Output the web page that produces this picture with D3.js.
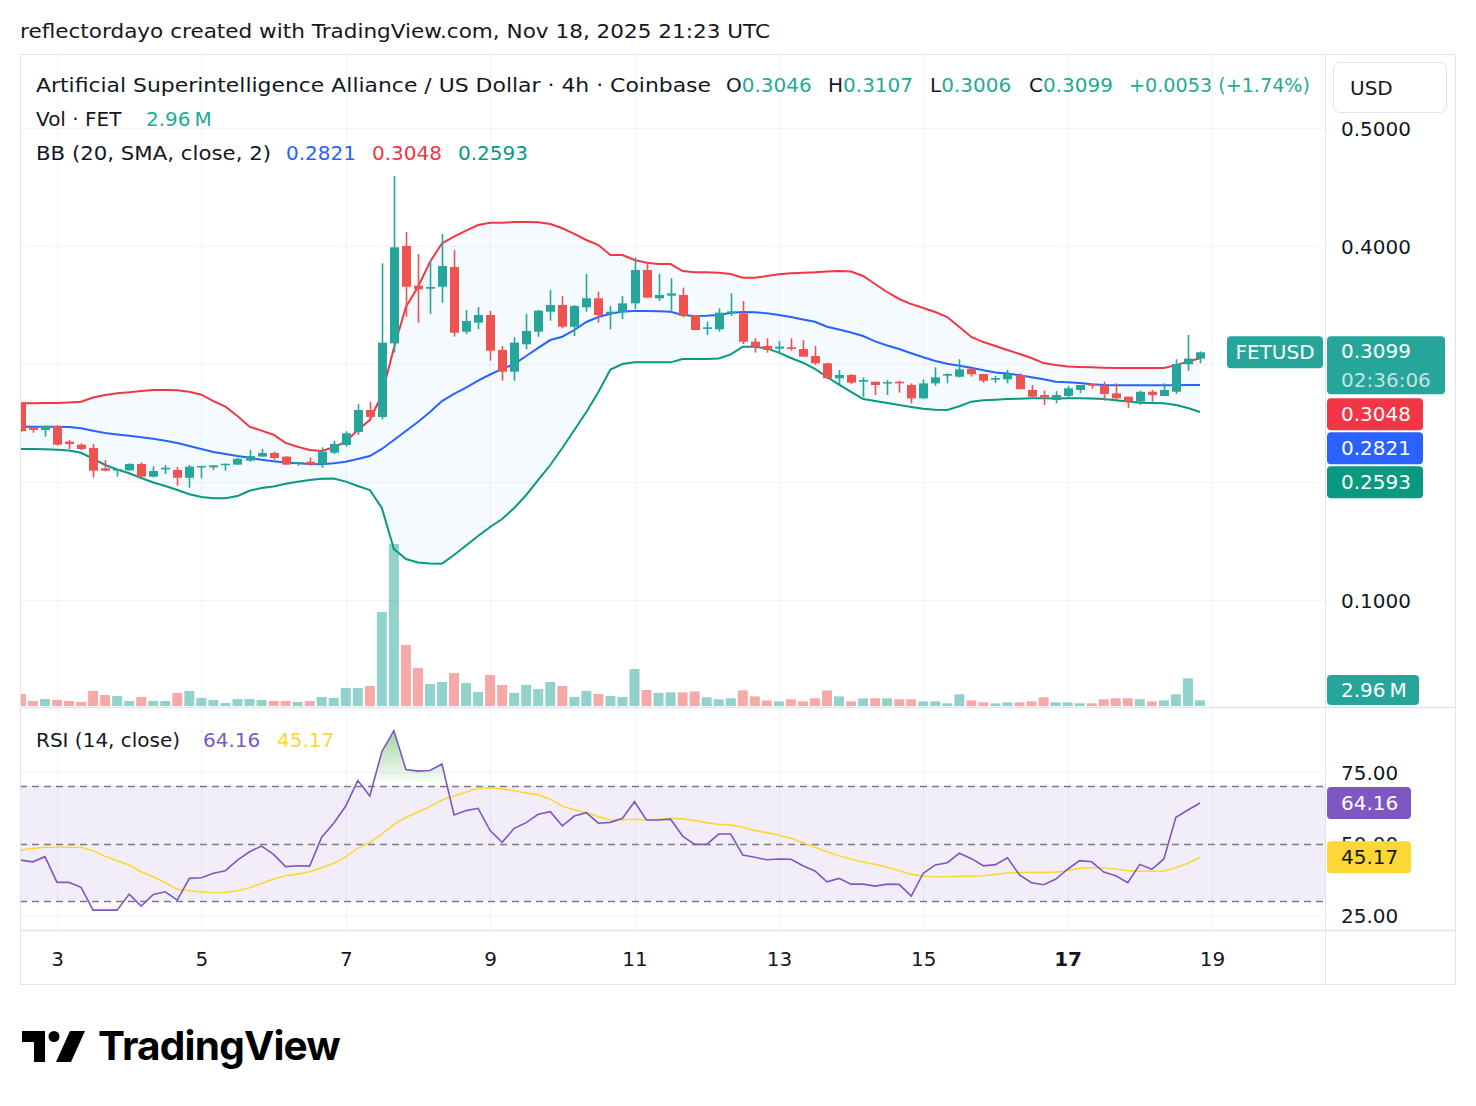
<!DOCTYPE html>
<html><head><meta charset="utf-8">
<script src="https://cdn.jsdelivr.net/npm/d3@7"></script>
<style>
body{margin:0;background:#fff;}
svg{display:block;font-family:'DejaVu Sans',sans-serif;}
</style>
</head><body>
<svg id="chart" width="1476" height="1106"></svg>
<script>
// ---------- DATA (4h candles, FET/USD, Coinbase) ----------
const firstCandleUTC = "2025-11-02T12:00:00Z";   // candle open time of first bar
const candleHours = 4;
const opens = [
 0.2676,0.2464,0.2441,0.2475,0.2342,0.2316,0.2288,0.2116,0.2096,0.2099,
 0.2153,0.2045,0.2107,0.2102,0.2036,0.2124,0.2124,0.2144,0.2147,0.2181,
 0.2215,0.2246,0.2215,0.2158,0.2172,0.2147,0.2248,0.2314,0.2424,0.2610,
 0.2551,0.3175,0.4000,0.3664,0.3638,0.3655,0.3822,0.3274,0.3350,0.3415,
 0.3119,0.2935,0.3167,0.3274,0.3443,0.3500,0.3316,0.3480,0.3557,0.3424,
 0.3438,0.3514,0.3797,0.3557,0.3579,0.3585,0.3415,0.3297,0.3294,0.3435,
 0.3429,0.3189,0.3153,0.3130,0.3141,0.3127,0.3068,0.3006,0.2879,0.2907,
 0.2850,0.2850,0.2836,0.2850,0.2822,0.2709,0.2836,0.2901,0.2892,0.2960,
 0.2915,0.2867,0.2870,0.2907,0.2780,0.2737,0.2695,0.2729,0.2780,0.2831,
 0.2814,0.2751,0.2723,0.2681,0.2765,0.2729,0.2765,0.2998,0.3046];
const highs = [
 0.2680,0.2468,0.2478,0.2480,0.2356,0.2328,0.2322,0.2186,0.2112,0.2158,
 0.2167,0.2133,0.2144,0.2127,0.2144,0.2136,0.2141,0.2155,0.2203,0.2271,
 0.2280,0.2257,0.2220,0.2169,0.2209,0.2294,0.2350,0.2430,0.2660,0.2680,
 0.3853,0.4593,0.4119,0.3932,0.3867,0.4102,0.3966,0.3458,0.3483,0.3449,
 0.3153,0.3226,0.3424,0.3458,0.3627,0.3576,0.3500,0.3763,0.3613,0.3492,
 0.3576,0.3904,0.3867,0.3763,0.3726,0.3647,0.3415,0.3358,0.3472,0.3599,
 0.3534,0.3218,0.3218,0.3195,0.3218,0.3203,0.3153,0.3012,0.2949,0.2915,
 0.2887,0.2850,0.2864,0.2858,0.2836,0.2870,0.2972,0.2921,0.3040,0.2966,
 0.2915,0.2898,0.2949,0.2921,0.2822,0.2774,0.2771,0.2814,0.2822,0.2831,
 0.2850,0.2836,0.2723,0.2774,0.2780,0.2836,0.3040,0.3246,0.3107];
const lows = [
 0.2425,0.2418,0.2384,0.2310,0.2280,0.2271,0.2036,0.2090,0.2045,0.2095,
 0.2045,0.2040,0.2068,0.1969,0.1952,0.2031,0.2102,0.2096,0.2147,0.2172,
 0.2215,0.2186,0.2147,0.2138,0.2138,0.2121,0.2237,0.2300,0.2400,0.2530,
 0.2530,0.3096,0.3401,0.3350,0.3424,0.3520,0.3232,0.3254,0.3294,0.3028,
 0.2858,0.2858,0.3124,0.3231,0.3367,0.3303,0.3237,0.3443,0.3350,0.3294,
 0.3381,0.3466,0.3562,0.3536,0.3452,0.3395,0.3288,0.3246,0.3274,0.3407,
 0.3169,0.3096,0.3096,0.3090,0.3113,0.3062,0.2992,0.2870,0.2822,0.2831,
 0.2718,0.2737,0.2737,0.2757,0.2667,0.2703,0.2816,0.2836,0.2887,0.2892,
 0.2842,0.2842,0.2836,0.2786,0.2723,0.2653,0.2667,0.2709,0.2754,0.2791,
 0.2689,0.2701,0.2625,0.2653,0.2681,0.2729,0.2746,0.2943,0.3006];
const closes = [
 0.2432,0.2441,0.2475,0.2316,0.2322,0.2280,0.2096,0.2096,0.2110,0.2153,
 0.2045,0.2093,0.2121,0.2036,0.2130,0.2136,0.2141,0.2155,0.2197,0.2220,
 0.2246,0.2203,0.2147,0.2169,0.2147,0.2257,0.2322,0.2413,0.2610,0.2551,
 0.3181,0.3989,0.3655,0.3633,0.3653,0.3831,0.3265,0.3364,0.3415,0.3113,
 0.2935,0.3181,0.3280,0.3452,0.3500,0.3316,0.3492,0.3557,0.3415,0.3443,
 0.3514,0.3797,0.3562,0.3585,0.3599,0.3407,0.3288,0.3311,0.3435,0.3446,
 0.3189,0.3147,0.3119,0.3147,0.3127,0.3062,0.3006,0.2879,0.2907,0.2842,
 0.2864,0.2822,0.2847,0.2836,0.2709,0.2836,0.2887,0.2915,0.2955,0.2913,
 0.2858,0.2881,0.2915,0.2786,0.2723,0.2718,0.2737,0.2794,0.2822,0.2816,
 0.2746,0.2709,0.2681,0.2765,0.2737,0.2780,0.3000,0.3046,0.3099];
// volume in millions FET
const volumeM = [
 6.2,2.6,3.6,3.1,2.6,2.1,7.8,5.7,5.2,2.6,
 4.7,2.6,2.6,6.8,7.8,4.2,3.1,1.6,3.6,3.6,
 3.1,2.6,2.6,2.1,2.6,4.7,4.2,9.4,9.4,10.4,
 48.8,84.1,31.7,19.7,11.4,12.5,17.1,11.9,7.3,16.1,
 10.9,6.8,10.9,8.8,12.5,10.4,4.7,7.8,6.2,5.2,
 4.7,19.2,8.3,6.8,7.1,7.1,7.6,4.5,3.5,4.0,
 8.1,5.0,2.9,2.4,3.5,2.4,4.0,8.1,5.0,2.4,
 4.0,4.0,4.0,3.5,3.5,2.4,2.4,1.4,6.1,2.9,
 1.9,1.4,1.9,1.9,2.4,4.5,1.9,1.9,1.4,1.4,
 3.5,4.0,4.0,3.5,2.4,2.9,6.1,14.4,2.96];
// Bollinger Bands (20, SMA, close, 2)
const bbUpper = [
 0.2667,0.2667,0.2669,0.2669,0.2674,0.2681,0.2716,0.2737,0.2752,0.2760,
 0.2771,0.2780,0.2780,0.2777,0.2765,0.2740,0.2686,0.2638,0.2559,0.2469,
 0.2435,0.2401,0.2331,0.2299,0.2271,0.2263,0.2294,0.2342,0.2441,0.2525,
 0.2737,0.3136,0.3483,0.3653,0.3864,0.4023,0.4079,0.4130,0.4178,0.4197,
 0.4197,0.4203,0.4203,0.4201,0.4186,0.4150,0.4102,0.4051,0.4008,0.3924,
 0.3924,0.3881,0.3858,0.3847,0.3847,0.3788,0.3777,0.3777,0.3774,0.3763,
 0.3731,0.3731,0.3746,0.3760,0.3769,0.3774,0.3777,0.3784,0.3788,0.3784,
 0.3746,0.3678,0.3610,0.3551,0.3508,0.3475,0.3441,0.3398,0.3314,0.3229,
 0.3186,0.3153,0.3119,0.3085,0.3051,0.3008,0.2992,0.2979,0.2975,0.2972,
 0.2969,0.2966,0.2966,0.2966,0.2966,0.2966,0.2990,0.3020,0.3048];
const bbBasis = [
 0.2469,0.2469,0.2469,0.2469,0.2466,0.2455,0.2435,0.2415,0.2403,0.2392,
 0.2379,0.2367,0.2350,0.2331,0.2305,0.2280,0.2254,0.2237,0.2220,0.2206,
 0.2189,0.2175,0.2165,0.2158,0.2153,0.2150,0.2158,0.2172,0.2195,0.2220,
 0.2280,0.2356,0.2432,0.2508,0.2593,0.2686,0.2746,0.2799,0.2860,0.2911,
 0.2958,0.3000,0.3068,0.3136,0.3203,0.3231,0.3288,0.3356,0.3398,0.3426,
 0.3445,0.3449,0.3449,0.3447,0.3443,0.3415,0.3407,0.3409,0.3415,0.3435,
 0.3441,0.3438,0.3430,0.3415,0.3398,0.3377,0.3358,0.3316,0.3292,0.3267,
 0.3237,0.3192,0.3157,0.3127,0.3091,0.3057,0.3025,0.3003,0.2986,0.2969,
 0.2947,0.2928,0.2919,0.2904,0.2887,0.2870,0.2850,0.2845,0.2839,0.2828,
 0.2822,0.2820,0.2820,0.2820,0.2820,0.2820,0.2820,0.2821,0.2821];
const bbLower = [
 0.2280,0.2280,0.2277,0.2274,0.2267,0.2248,0.2197,0.2144,0.2106,0.2074,
 0.2034,0.1996,0.1966,0.1932,0.1896,0.1873,0.1862,0.1862,0.1881,0.1926,
 0.1949,0.1962,0.1986,0.2003,0.2017,0.2028,0.2030,0.2003,0.1966,0.1932,
 0.1780,0.1432,0.1347,0.1318,0.1309,0.1308,0.1381,0.1462,0.1542,0.1619,
 0.1686,0.1780,0.1890,0.2017,0.2144,0.2288,0.2441,0.2593,0.2763,0.2953,
 0.3000,0.3014,0.3014,0.3014,0.3014,0.3042,0.3042,0.3042,0.3047,0.3082,
 0.3147,0.3147,0.3131,0.3096,0.3051,0.3011,0.2958,0.2890,0.2826,0.2763,
 0.2703,0.2686,0.2669,0.2653,0.2636,0.2621,0.2613,0.2610,0.2642,0.2681,
 0.2692,0.2697,0.2703,0.2706,0.2709,0.2709,0.2708,0.2709,0.2709,0.2708,
 0.2703,0.2692,0.2682,0.2672,0.2669,0.2667,0.2653,0.2627,0.2593];
// RSI (14, close) and its moving average
const rsi = [
 44.2,43.6,45.4,36.4,36.4,34.7,26.7,26.7,26.7,32.3,
 28.1,32.2,33.1,30.2,37.8,38.0,39.6,40.5,44.2,47.1,
 49.1,46.2,41.9,42.2,42.1,52.2,57.1,63.1,72.0,66.6,
 82.1,89.4,75.9,75.3,75.5,77.8,60.0,61.5,62.3,54.5,
 50.4,55.3,57.3,60.2,61.1,56.2,59.6,60.8,57.1,57.4,
 58.8,64.6,58.2,58.2,58.5,52.6,49.7,49.7,53.3,53.3,
 46.0,45.2,44.3,44.6,44.5,42.2,40.4,36.6,37.8,35.8,
 35.8,35.1,35.8,35.7,31.6,39.6,42.5,43.3,46.6,44.7,
 42.2,42.6,45.0,39.0,36.3,35.6,37.5,41.0,44.0,43.6,
 40.0,38.7,36.3,42.7,41.0,44.6,59.2,61.7,64.16];
const rsiMA = [
 47.7,48.3,48.7,48.7,48.7,48.7,47.5,45.5,44.0,42.5,
 40.1,38.4,36.3,34.0,33.5,33.1,32.8,32.9,33.5,34.5,
 36.1,37.6,38.7,39.3,40.1,41.5,43.1,45.4,48.3,50.4,
 53.3,56.7,59.2,61.0,62.9,65.2,66.6,68.0,69.3,69.5,
 69.1,68.5,67.6,67.0,65.5,63.1,61.7,60.8,59.4,58.2,
 58.2,58.5,58.2,58.5,58.8,58.6,58.0,57.3,56.7,56.5,
 55.7,54.5,53.8,52.9,51.8,50.3,48.7,47.1,45.7,44.5,
 43.5,42.7,41.7,40.5,39.2,38.6,38.4,38.4,38.5,38.6,
 38.7,39.2,39.7,39.8,39.9,39.9,40.0,40.5,41.3,41.5,
 41.5,41.1,40.5,40.3,40.3,40.4,41.5,43.1,45.17];
// axis ticks
const dayTicks = [3,5,7,9,11,13,15,17,19];
const priceGrid = [0.1,0.2,0.3,0.4,0.5];
const priceLabels = [0.1,0.4,0.5];          // 0.2 / 0.3 are hidden behind the tags
const rsiTicks = [25,50,75];
const rsiLevels = [70,50,30];

// ---------- SETUP ----------
const svg = d3.select('#chart');
const PL = 20, PR = 1325, OUTR = 1456;
const mainTop = 55, mainBot = 707, rsiTop = 708, rsiBot = 930, axisBot = 985;
const up = '#26a69a', down = '#ef5350';
const grid = '#f0f3fa', border = '#e0e3eb', txt = '#131722';
const FS = 20;

const t0 = new Date(firstCandleUTC).getTime();
const rows = opens.map((o,i)=>({t:new Date(t0 + i*candleHours*3600e3), o, h:highs[i], l:lows[i], c:closes[i],
  v:volumeM[i], bu:bbUpper[i], bm:bbBasis[i], bl:bbLower[i], r:rsi[i], rm:rsiMA[i]}));

const x = d3.scaleUtc().domain([new Date(Date.UTC(2025,10,3)), new Date(Date.UTC(2025,10,19))]).range([57,1212]);
const yP = d3.scaleLinear().domain([0.1,0.5]).range([600,128]);
const yV = d3.scaleLinear().domain([0,d3.max(volumeM)]).range([706,544]);
const yR = d3.scaleLinear().domain([25,75]).range([915,772]);
const tickDates = dayTicks.map(d=>new Date(Date.UTC(2025,10,d)));
const maTagTop = yR(rsiMA[rsiMA.length-1]) - 16;

const defs = svg.append('defs');
defs.append('clipPath').attr('id','mainClip').append('rect').attr('x',PL).attr('y',mainTop).attr('width',PR-PL).attr('height',mainBot-mainTop);
defs.append('clipPath').attr('id','rsiClip').append('rect').attr('x',PL).attr('y',rsiTop).attr('width',PR-PL).attr('height',rsiBot-rsiTop);
defs.append('clipPath').attr('id','obClip').append('rect').attr('x',PL).attr('y',rsiTop).attr('width',PR-PL).attr('height',yR(70)-rsiTop);
defs.append('clipPath').attr('id','osClip').append('rect').attr('x',PL).attr('y',yR(30)).attr('width',PR-PL).attr('height',rsiBot-yR(30));
// clip (in the 50-tick's local coordinates) that keeps only the part of "50.00" above the MA tag
defs.append('clipPath').attr('id','fiftyClip').append('rect')
  .attr('x',-20).attr('y',rsiTop-yR(50)).attr('width',140).attr('height',maTagTop-rsiTop);
const gOb = defs.append('linearGradient').attr('id','obGrad').attr('gradientUnits','userSpaceOnUse').attr('x1',0).attr('x2',0).attr('y1',yR(90)).attr('y2',yR(70));
gOb.append('stop').attr('offset',0).attr('stop-color','rgb(76,175,80)').attr('stop-opacity',0.55);
gOb.append('stop').attr('offset',1).attr('stop-color','rgb(76,175,80)').attr('stop-opacity',0.0);
const gOs = defs.append('linearGradient').attr('id','osGrad').attr('gradientUnits','userSpaceOnUse').attr('x1',0).attr('x2',0).attr('y1',yR(30)).attr('y2',yR(10));
gOs.append('stop').attr('offset',0).attr('stop-color','rgb(242,54,69)').attr('stop-opacity',0.0);
gOs.append('stop').attr('offset',1).attr('stop-color','rgb(242,54,69)').attr('stop-opacity',0.55);

svg.append('rect').attr('width',1476).attr('height',1106).attr('fill','#fff');

// credit line
svg.append('text').attr('x',20).attr('y',31).attr('dominant-baseline','central')
  .attr('font-size',FS).attr('fill',txt).attr('textLength',750).attr('lengthAdjust','spacingAndGlyphs')
  .text('reflectordayo created with TradingView.com, Nov 18, 2025 21:23 UTC');

// ---------- GRID ----------
const gGrid = svg.append('g').attr('stroke',grid).attr('stroke-width',1);
tickDates.forEach(d=>{
  const xx = Math.round(x(d))+0.5;
  gGrid.append('line').attr('x1',xx).attr('x2',xx).attr('y1',mainTop).attr('y2',mainBot);
  gGrid.append('line').attr('x1',xx).attr('x2',xx).attr('y1',rsiTop).attr('y2',rsiBot);
});
priceGrid.forEach(p=>{
  const yy = Math.round(yP(p))+0.5;
  gGrid.append('line').attr('x1',PL).attr('x2',PR).attr('y1',yy).attr('y2',yy);
});
[75,25].forEach(r=>{
  const yy = Math.round(yR(r))+0.5;
  gGrid.append('line').attr('x1',PL).attr('x2',PR).attr('y1',yy).attr('y2',yy);
});

// ---------- MAIN PANE ----------
const main = svg.append('g').attr('clip-path','url(#mainClip)');
main.append('g').selectAll('rect').data(rows).join('rect')
  .attr('x',d=>x(d.t)-5).attr('width',10)
  .attr('y',d=>yV(d.v)).attr('height',d=>yV(0)-yV(d.v))
  .attr('fill',d=>d.c>=d.o?'rgba(38,166,154,0.5)':'rgba(239,83,80,0.5)');
main.append('path').datum(rows)
  .attr('d',d3.area().x(d=>x(d.t)).y0(d=>yP(d.bl)).y1(d=>yP(d.bu)))
  .attr('fill','rgba(33,150,243,0.05)');
const bbLine = key => d3.line().x(d=>x(d.t)).y(d=>yP(d[key]));
main.append('path').datum(rows).attr('d',bbLine('bu')).attr('fill','none').attr('stroke','#f23645').attr('stroke-width',2);
main.append('path').datum(rows).attr('d',bbLine('bl')).attr('fill','none').attr('stroke','#089981').attr('stroke-width',2);
main.append('path').datum(rows).attr('d',bbLine('bm')).attr('fill','none').attr('stroke','#2962ff').attr('stroke-width',2);
const cg = main.append('g').selectAll('g').data(rows).join('g');
cg.append('line')
  .attr('x1',d=>Math.round(x(d.t))+0.5).attr('x2',d=>Math.round(x(d.t))+0.5)
  .attr('y1',d=>yP(d.h)).attr('y2',d=>yP(d.l))
  .attr('stroke',d=>d.c>=d.o?up:down).attr('stroke-width',1.6);
cg.append('rect')
  .attr('x',d=>Math.round(x(d.t))-4).attr('width',9)
  .attr('y',d=>Math.min(yP(d.o),yP(d.c)))
  .attr('height',d=>Math.max(1.5,Math.abs(yP(d.o)-yP(d.c))))
  .attr('fill',d=>d.c>=d.o?up:down);

// ---------- RSI PANE ----------
const rp = svg.append('g').attr('clip-path','url(#rsiClip)');
rp.append('rect').attr('x',PL).attr('width',PR-PL).attr('y',yR(70)).attr('height',yR(30)-yR(70)).attr('fill','rgba(126,87,194,0.1)');
rp.append('path').datum(rows).attr('clip-path','url(#obClip)')
  .attr('d',d3.area().x(d=>x(d.t)).y0(yR(70)).y1(d=>yR(d.r))).attr('fill','url(#obGrad)');
rp.append('path').datum(rows).attr('clip-path','url(#osClip)')
  .attr('d',d3.area().x(d=>x(d.t)).y0(yR(30)).y1(d=>yR(d.r))).attr('fill','url(#osGrad)');
rsiLevels.forEach(l=>{
  const yy = Math.round(yR(l))+0.5;
  rp.append('line').attr('x1',PL).attr('x2',PR).attr('y1',yy).attr('y2',yy)
    .attr('stroke','#787b86').attr('stroke-width',1.3).attr('stroke-dasharray','7,5');
});
rp.append('path').datum(rows).attr('d',d3.line().x(d=>x(d.t)).y(d=>yR(d.rm)))
  .attr('fill','none').attr('stroke','#fdd835').attr('stroke-width',1.6);
rp.append('path').datum(rows).attr('d',d3.line().x(d=>x(d.t)).y(d=>yR(d.r)))
  .attr('fill','none').attr('stroke','#7e57c2').attr('stroke-width',1.6);

// ---------- FRAME ----------
const fr = svg.append('g').attr('stroke',border).attr('stroke-width',1).attr('fill','none');
fr.append('rect').attr('x',PL+0.5).attr('y',mainTop-0.5).attr('width',OUTR-PL-1).attr('height',axisBot-mainTop);
fr.append('line').attr('x1',PR+0.5).attr('x2',PR+0.5).attr('y1',mainTop).attr('y2',axisBot);
fr.append('line').attr('x1',PL).attr('x2',OUTR).attr('y1',mainBot+0.5).attr('y2',mainBot+0.5).attr('stroke-width',1.5);
fr.append('line').attr('x1',PL).attr('x2',OUTR).attr('y1',rsiBot+0.5).attr('y2',rsiBot+0.5).attr('stroke-width',1.5);

// ---------- AXES ----------
function styleAxis(g){
  g.select('.domain').remove();
  g.selectAll('text').attr('font-size',FS).attr('fill',txt).attr('font-family','DejaVu Sans').attr('dy','0.35em');
}
const pax = svg.append('g').attr('transform',`translate(${PR+8},0)`)
  .call(d3.axisRight(yP).tickValues(priceLabels).tickFormat(d3.format('.4f')).tickSize(0).tickPadding(8));
styleAxis(pax);
const rax = svg.append('g').attr('transform',`translate(${PR+8},0)`)
  .call(d3.axisRight(yR).tickValues(rsiTicks).tickFormat(d3.format('.2f')).tickSize(0).tickPadding(8));
styleAxis(rax);
rax.selectAll('.tick').filter(d=>d===50).attr('clip-path','url(#fiftyClip)');
const xax = svg.append('g').attr('transform','translate(0,959)')
  .call(d3.axisBottom(x).tickValues(tickDates).tickFormat(d3.utcFormat('%-d')).tickSize(0).tickPadding(0));
styleAxis(xax);
xax.selectAll('text').attr('y',0).attr('font-weight',d=>d.getUTCDate()===17?'bold':'normal');

// cover for top of price scale + currency button
svg.append('rect').attr('x',PR+1).attr('y',mainTop).attr('width',OUTR-PR-2).attr('height',66).attr('fill','#fff');
svg.append('rect').attr('x',1333.5).attr('y',62.5).attr('width',113).attr('height',50).attr('rx',6)
  .attr('fill','#fff').attr('stroke',border);
svg.append('text').attr('x',1350).attr('y',88).attr('dominant-baseline','central').attr('font-size',FS).attr('fill',txt).text('USD');

// ---------- TAGS ----------
function tag(xp,yTop,w,h,fill,lines,textFill){
  svg.append('rect').attr('x',xp).attr('y',yTop).attr('width',w).attr('height',h).attr('rx',4).attr('fill',fill);
  lines.forEach((ln,k)=>{
    svg.append('text').attr('x',ln.x!==undefined?ln.x:xp+14).attr('y',yTop+h/(lines.length*2)+k*h/lines.length).attr('dominant-baseline','central')
      .attr('font-size',FS).attr('fill',ln.fill||textFill||'#fff').attr('text-anchor',ln.anchor||'start').text(ln.t);
  });
}
const lastClose = closes[closes.length-1];
const priceY = yP(lastClose);
tag(1227,priceY-16,96,32,up,[{t:'FETUSD',x:1275,anchor:'middle'}]);
tag(1327,priceY-16,118,58,up,[{t:d3.format('.4f')(lastClose)},{t:'02:36:06',fill:'rgba(255,255,255,0.72)'}]);
tag(1327,priceY+46,96,32,'#f23645',[{t:d3.format('.4f')(bbUpper[bbUpper.length-1])}]);
tag(1327,priceY+80,96,32,'#2962ff',[{t:d3.format('.4f')(bbBasis[bbBasis.length-1])}]);
tag(1327,priceY+114,96,32,'#089981',[{t:d3.format('.4f')(bbLower[bbLower.length-1])}]);
tag(1327,675,92,30,up,[{t:'2.96\u202fM'}]);
tag(1327,yR(rsi[rsi.length-1])-16,84,32,'#7e57c2',[{t:d3.format('.2f')(rsi[rsi.length-1])}]);
tag(1327,maTagTop,84,32,'#fdd835',[{t:d3.format('.2f')(rsiMA[rsiMA.length-1])}],txt);

// ---------- LEGENDS ----------
function leg(xp,yp,parts){
  const t = svg.append('text').attr('x',xp).attr('y',yp).attr('dominant-baseline','central').attr('font-size',FS);
  parts.forEach(p=>t.append('tspan').attr('fill',p.f||txt).text(p.t));
  return t;
}
const teal = '#22ab94';
leg(36,85,[{t:'Artificial Superintelligence Alliance / US Dollar · 4h · Coinbase'}]).attr('textLength',675).attr('lengthAdjust','spacingAndGlyphs');
leg(726,85,[{t:'O'},{t:'0.3046',f:teal}]);
leg(828,85,[{t:'H'},{t:'0.3107',f:teal}]);
leg(930,85,[{t:'L'},{t:'0.3006',f:teal}]);
leg(1029,85,[{t:'C'},{t:'0.3099',f:teal}]);
leg(1129,85,[{t:'+0.0053 (+1.74%)',f:teal}]).attr('textLength',181).attr('lengthAdjust','spacingAndGlyphs');
leg(36,119,[{t:'Vol · FET'}]);
leg(146,119,[{t:'2.96\u202fM',f:teal}]);
leg(36,153,[{t:'BB (20, SMA, close, 2)'}]).attr('textLength',235).attr('lengthAdjust','spacingAndGlyphs');
leg(286,153,[{t:'0.2821',f:'#2962ff'}]);
leg(372,153,[{t:'0.3048',f:'#f23645'}]);
leg(458,153,[{t:'0.2593',f:'#089981'}]);
leg(36,740,[{t:'RSI (14, close)'}]);
leg(203,740,[{t:'64.16',f:'#7e57c2'}]);
leg(277,740,[{t:'45.17',f:'#fdd835'}]);

// ---------- LOGO ----------
const logo = svg.append('g').attr('fill','#000');
logo.append('path').attr('d','M22,1031 H45 V1062 H34 V1042 H22 Z');
logo.append('circle').attr('cx',54).attr('cy',1036.5).attr('r',5.5);
logo.append('path').attr('d','M70,1031 H85 L71,1062 H56 Z');
svg.append('text').attr('x',98).attr('y',1060).attr('font-size',40).attr('font-weight',700)
  .attr('font-family','Inter, sans-serif').attr('letter-spacing',-0.8).attr('fill','#000')
  .attr('textLength',242).attr('lengthAdjust','spacingAndGlyphs').text('TradingView');
</script>
</body></html>
